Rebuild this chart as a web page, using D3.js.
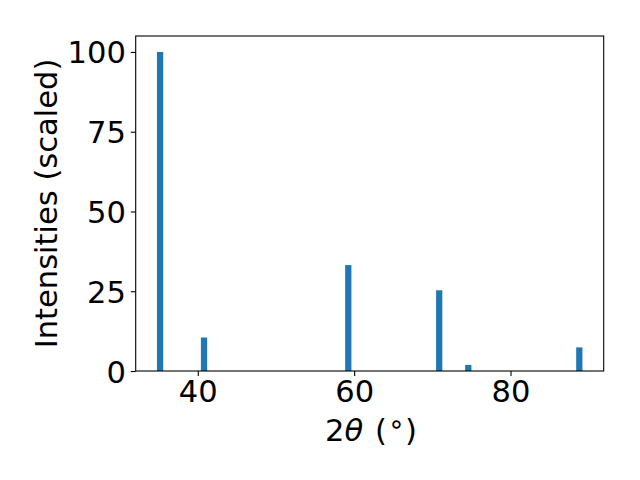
<!DOCTYPE html>
<html><head><meta charset="utf-8">
<script src="https://cdn.jsdelivr.net/npm/d3@7"></script>
<style>body{margin:0;background:#fff}svg{display:block}</style>
</head><body><svg id="c" width="640" height="480"></svg>
<script>
const angles = [35.18, 40.8, 59.25, 70.88, 74.6, 88.8];
const intensities = [100, 10.5, 33.2, 25.3, 1.9, 7.4];
const xTicks = [40, 60, 80];
const yTicks = [0, 25, 50, 75, 100];
const barWidth = 0.8;

const svg = d3.select('#c');
const L = 135.7, R = 603.7, T = 36, B = 371;
const x = d3.scaleLinear().domain([32.06, 91.92]).range([L, R]);
const y = d3.scaleLinear().domain([0, 105]).range([B, T]);
const font = "DejaVu Sans, sans-serif";
const fs = 30.56;

svg.append('g').selectAll('rect').data(angles).join('rect')
  .attr('x', (d) => x(d - barWidth/2))
  .attr('width', (d) => x(d + barWidth/2) - x(d - barWidth/2))
  .attr('y', (d,i) => y(intensities[i]))
  .attr('height', (d,i) => y(0) - y(intensities[i]))
  .attr('fill', '#1f77b4');

const xa = svg.append('g').attr('transform', `translate(0,${B})`)
  .call(d3.axisBottom(x).tickValues(xTicks).tickSize(4.9).tickPadding(4.9).tickFormat(d3.format('d')));
const ya = svg.append('g').attr('transform', `translate(${L},0)`)
  .call(d3.axisLeft(y).tickValues(yTicks).tickSize(4.9).tickPadding(4.9).tickFormat(d3.format('d')));
[xa, ya].forEach(a => {
  a.select('.domain').remove();
  a.selectAll('line').attr('stroke', '#000').attr('stroke-width', 1.1);
  a.selectAll('text').attr('font-family', font).attr('font-size', fs).attr('fill', '#000');
});
ya.selectAll('text').attr('dy', '0.36em');

svg.append('rect').attr('x', L).attr('y', T).attr('width', R - L).attr('height', B - T)
  .attr('fill', 'none').attr('stroke', '#000').attr('stroke-width', 1.1);

const xlab = svg.append('g').attr('font-family', font).attr('font-size', fs).attr('fill', '#000');
const t1 = xlab.append('text').attr('x', 325).attr('y', 441);
t1.append('tspan').text('2');
t1.append('tspan').attr('font-style', 'italic').text('θ');
xlab.append('text').attr('x', 375).attr('y', 441).text('(');
xlab.append('text').attr('x', 388).attr('y', 433).attr('font-size', 27).text('∘');
xlab.append('text').attr('x', 405).attr('y', 441).text(')');

svg.append('text').attr('transform', `translate(57,${(T + B) / 2}) rotate(-90)`)
  .attr('text-anchor', 'middle').attr('font-family', font).attr('font-size', fs).attr('fill', '#000')
  .text('Intensities (scaled)');
</script></body></html>
